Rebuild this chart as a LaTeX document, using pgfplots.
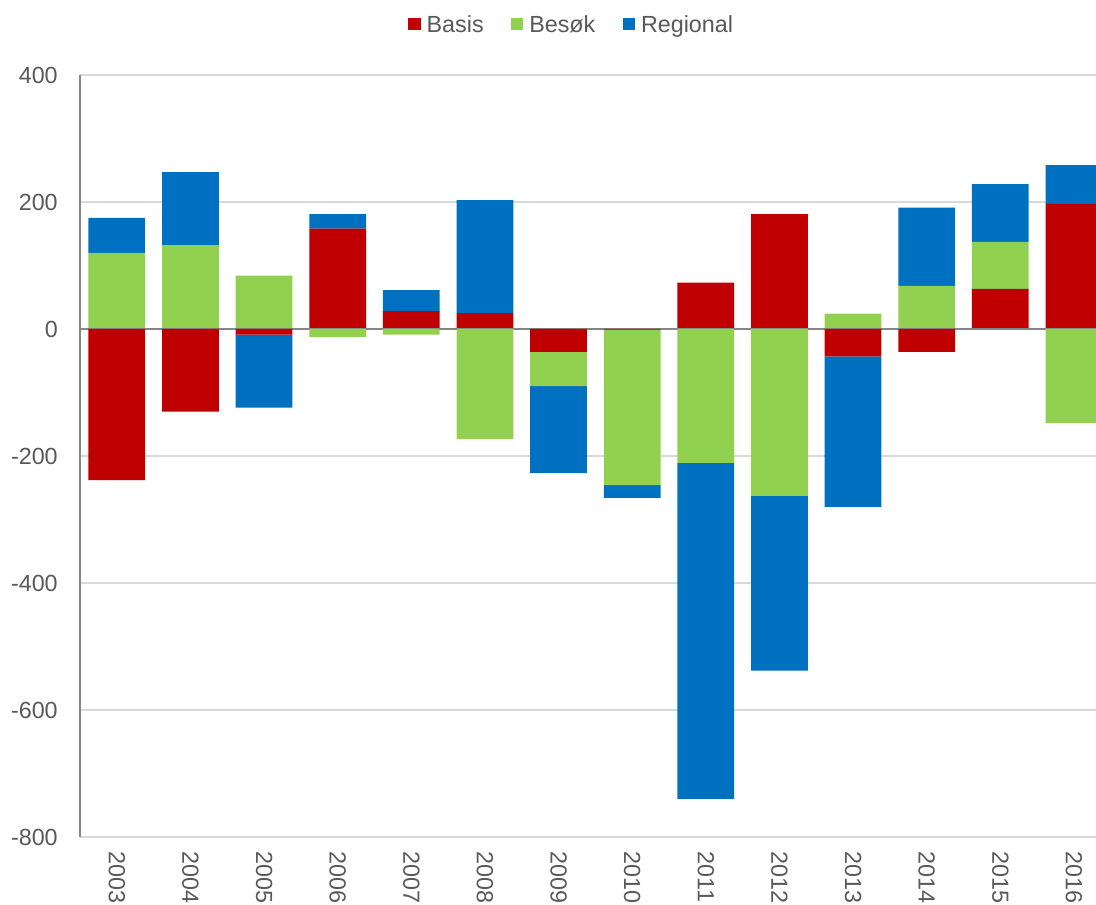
\documentclass[border=0pt]{standalone}
\usepackage{pgfplots}
\pgfplotsset{compat=1.18}
\usepackage{pgfplotstable}
\usepackage{fontspec}
\setmainfont{Liberation Sans}
\definecolor{cBasis}{HTML}{C00000}
\definecolor{cBesok}{HTML}{92D050}
\definecolor{cRegional}{HTML}{0070C0}
\definecolor{txt}{HTML}{595959}
\definecolor{gridc}{HTML}{D9D9D9}
\definecolor{axisc}{HTML}{868686}
\pgfplotstableread{
idx Basis Besok Regional
0  -238  120   55
1  -130  132  115
2    -9   84 -115
3   158  -13   23
4    28   -9   33
5    25 -173  178
6   -36  -54 -137
7    -1 -245  -20
8    73 -211 -529
9   181 -263 -275
10  -43   24 -237
11  -36   68  123
12   63   74   91
13  197 -148   61
}\data
\begin{document}
\begin{tikzpicture}
\pgfplotsset{
  common/.style={
    at={(0,0)}, anchor=south west,
    scale only axis, width=762pt, height=571.5pt,
    xmin=-0.5, xmax=13.3, ymin=-800, ymax=400,
    ybar stacked, bar width=0.77,
  }
}
\path[use as bounding box] (-60pt,-51pt) rectangle (762pt,627.75pt);
\begin{axis}[common,
  axis lines*=left,
  axis line style={-},
  x axis line style={draw=none},
  y axis line style={-, axisc, line width=1.1pt},
  ytick={-800,-600,...,400},
  ymajorgrids, grid style={gridc, line width=0.8pt},
  xtick={0,...,13},
  xticklabels={2003,2004,2005,2006,2007,2008,2009,2010,2011,2012,2013,2014,2015,2016},
  major tick length=0pt,
  tick label style={font=\fontsize{17.5}{21}\selectfont, text=txt},
  yticklabel style={inner sep=0pt}, yticklabel shift=16.5pt,
  xticklabel style={rotate=-90, anchor=west, inner sep=0pt}, xticklabel shift=11pt,
  scaled y ticks=false,
  /pgf/number format/assume math mode=true,
  legend columns=-1,
  legend cell align=left,
  legend style={at={(0.483,1.067)}, anchor=center, draw=none, fill=none,
    font=\fontsize{17.5}{21}\selectfont, text=txt, inner sep=0pt,
    nodes={inner sep=0pt, text depth=0pt},
    /tikz/every odd column/.append style={column sep=4.5pt},
    /tikz/every even column/.append style={column sep=20.5pt}},
  legend image code/.code={\fill[#1] (0pt,-4.6pt) rectangle (9.2pt,4.6pt);},
]
\addplot[fill=cBasis, draw=none] table[x=idx, y expr={max(\thisrow{Basis},0)}] {\data};
\addplot[fill=cBesok, draw=none] table[x=idx, y expr={max(\thisrow{Besok},0)}] {\data};
\addplot[fill=cRegional, draw=none] table[x=idx, y expr={max(\thisrow{Regional},0)}] {\data};
\legend{Basis,Besøk,Regional}
\end{axis}
\begin{axis}[common, hide axis]
\addplot[fill=cBasis, draw=none] table[x=idx, y expr={min(\thisrow{Basis},0)}] {\data};
\addplot[fill=cBesok, draw=none] table[x=idx, y expr={min(\thisrow{Besok},0)}] {\data};
\addplot[fill=cRegional, draw=none] table[x=idx, y expr={min(\thisrow{Regional},0)}] {\data};
\draw[axisc, line width=1.4pt] (axis cs:-0.5,0) -- (axis cs:13.3,0);
\end{axis}
\end{tikzpicture}
\end{document}
